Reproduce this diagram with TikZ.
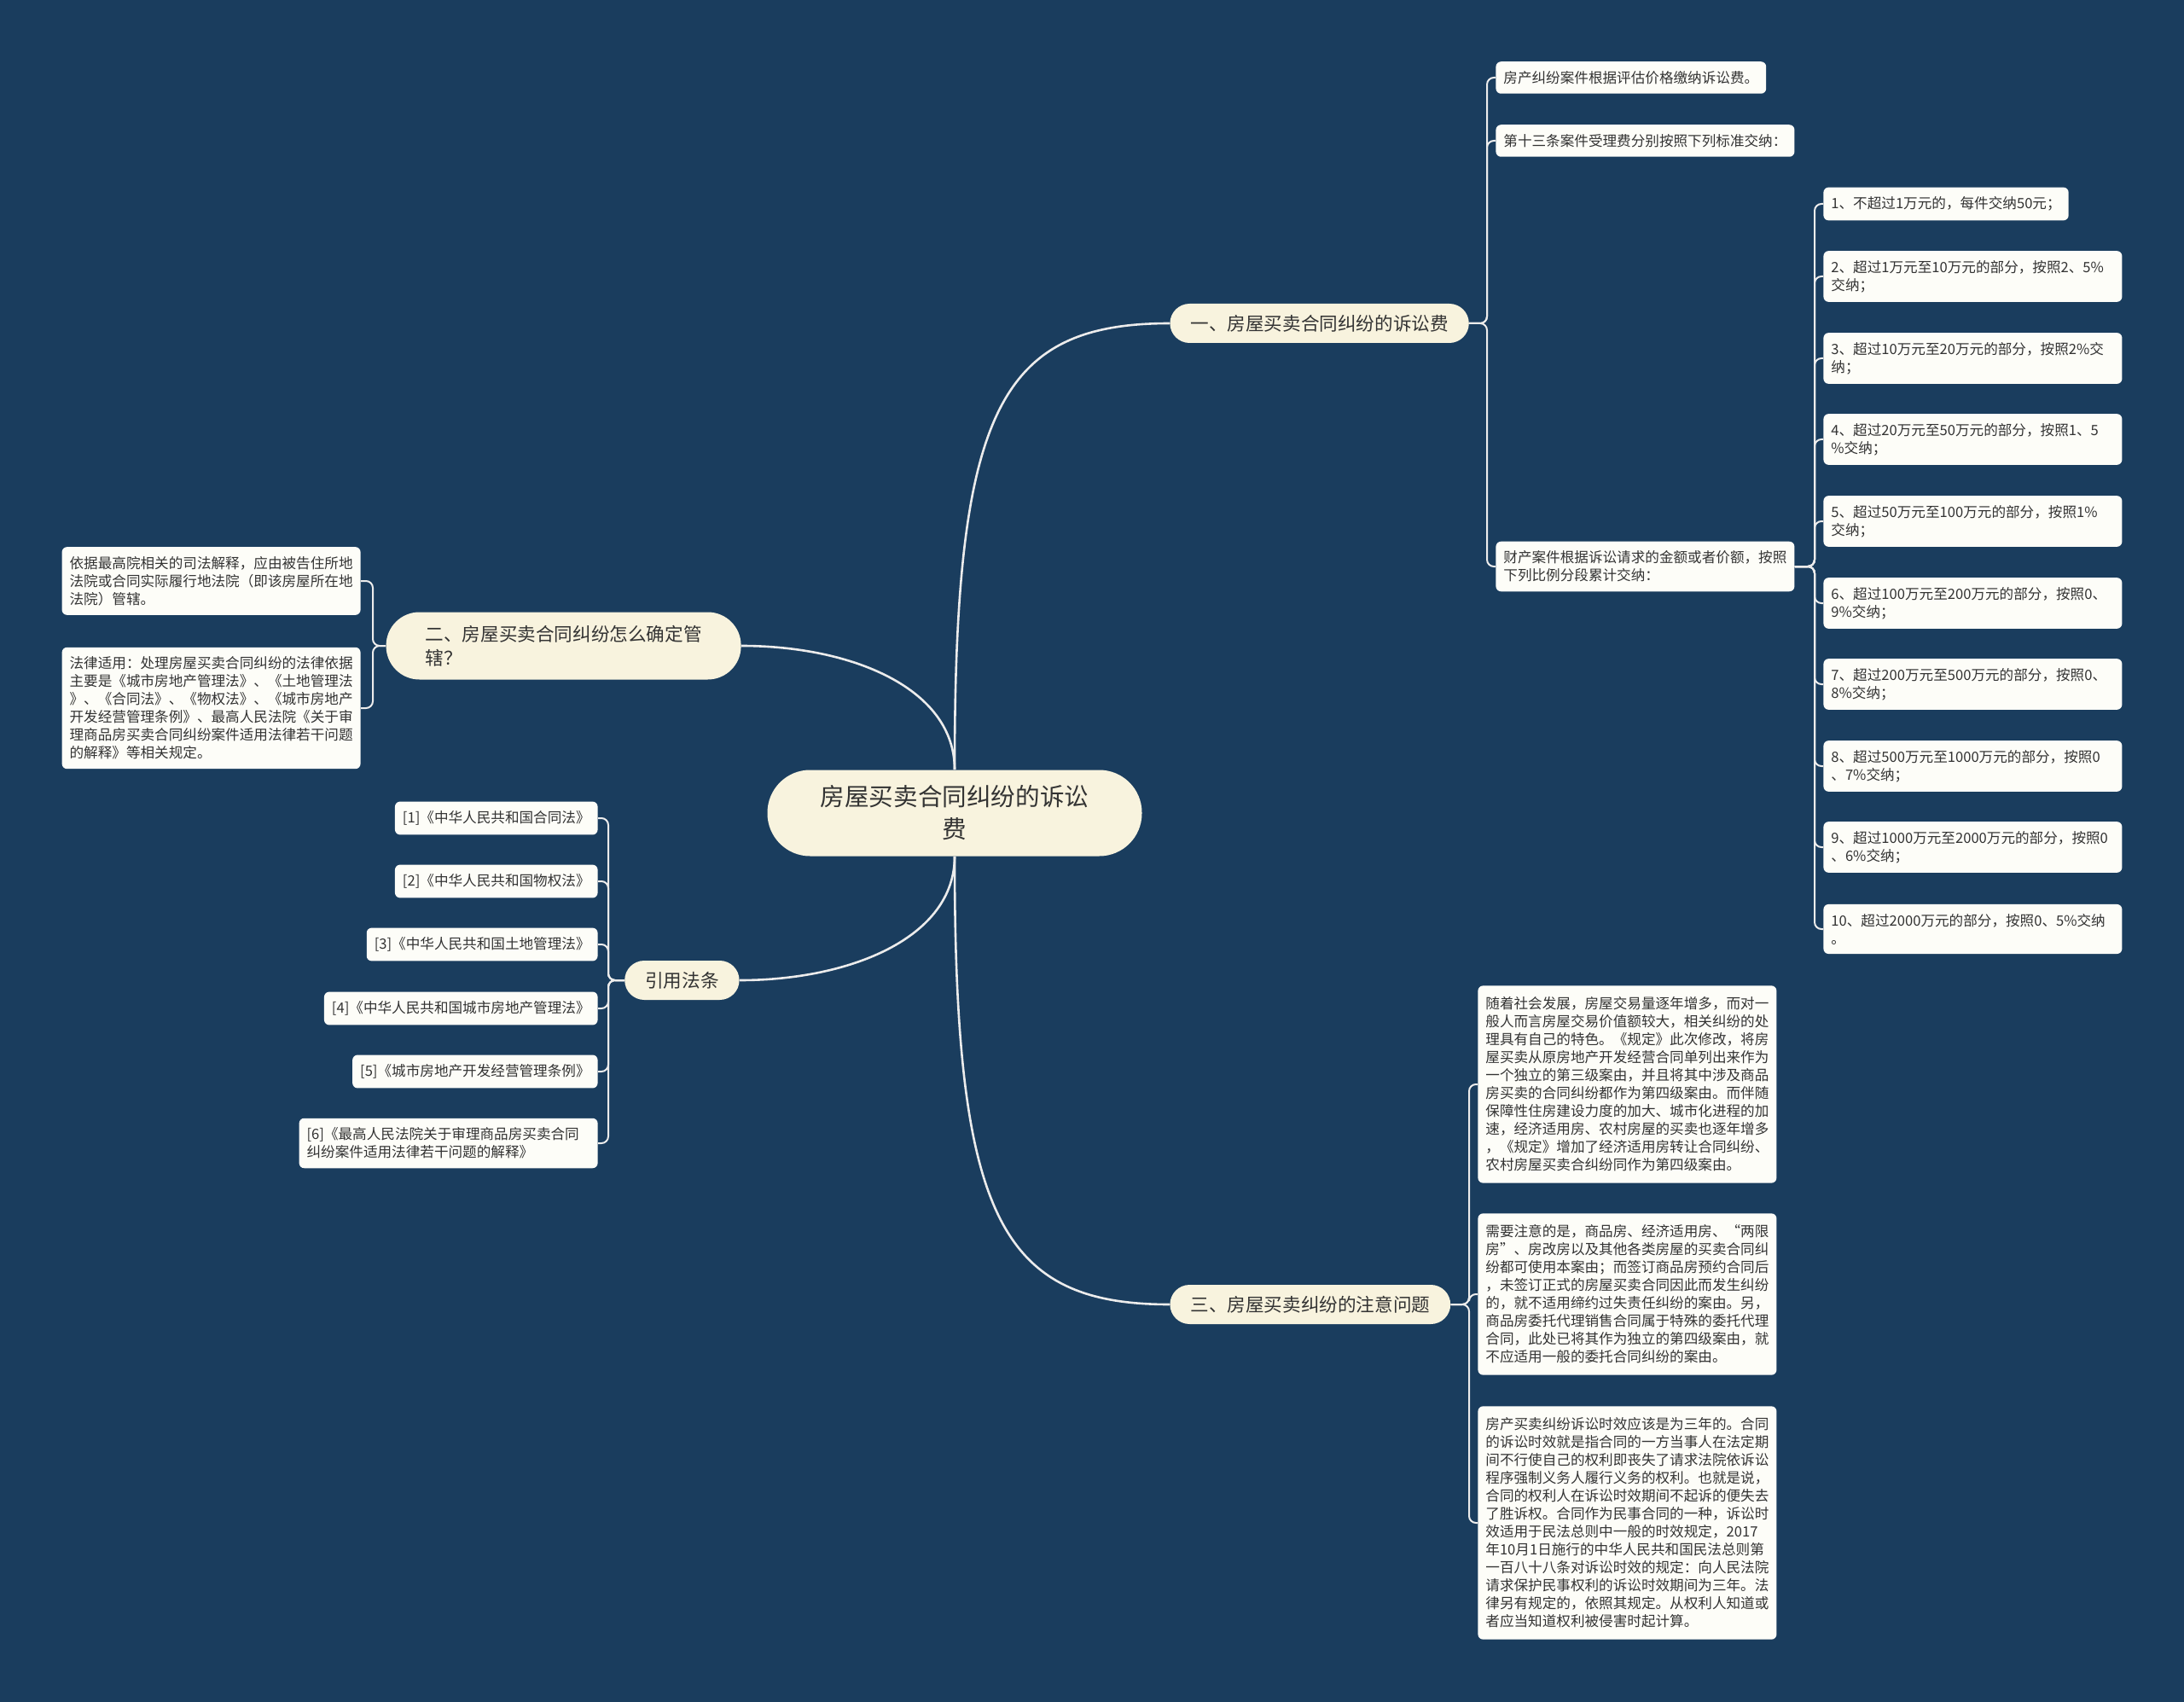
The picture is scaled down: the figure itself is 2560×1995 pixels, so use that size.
\documentclass[tikz,border=0pt]{standalone}
\usepackage{fontspec}
\setmainfont{Noto Sans CJK SC}
\usepackage{tikz}
\usetikzlibrary{positioning}

\definecolor{bgnavy}{RGB}{26,61,94}
\definecolor{creambox}{RGB}{248,243,222}
\definecolor{leafwhite}{RGB}{253,253,248}
\definecolor{inkgray}{RGB}{51,51,51}
\definecolor{linewhite}{RGB}{236,236,236}

\begin{document}
\begin{tikzpicture}[
  x=0.5pt, y=-0.5pt,
  every node/.style={text=inkgray},
  root/.style={rectangle, fill=creambox, rounded corners=25pt,
    minimum width=219.5pt, minimum height=50.5pt, align=center,
    font=\fontsize{14.3pt}{19pt}\selectfont},
  topic/.style={rectangle, fill=creambox, rounded corners=11.5pt,
    minimum height=23pt, inner xsep=12pt, align=left,
    font=\fontsize{10.8pt}{14pt}\selectfont},
  leaf/.style={rectangle, fill=leafwhite, rounded corners=3pt,
    inner xsep=4.5pt, inner ysep=5.5pt, align=left,
    font=\fontsize{8.3pt}{10.5pt}\selectfont},
  wide/.style={leaf, text width=166pt},
  para/.style={wide, inner ysep=6.7pt},
  branch/.style={draw=linewhite, line width=1.3pt},
  link/.style={draw=linewhite, line width=1pt, rounded corners=4pt},
  elbow/.style={to path={-| ([xshift=#1]\tikztotarget) -- (\tikztotarget)}},
]
\useasboundingbox (0,0) rectangle (2560,1995);
\fill[bgnavy] (0,0) rectangle (2560,1995);

% Root and main topics
\node[root] at (1119,953) (root) {房屋买卖合同纠纷的诉讼\\费};
\node[topic, anchor=west] at (1371,379) (fee) {一、房屋买卖合同纠纷的诉讼费};
\node[topic, anchor=east, inner xsep=23pt, minimum height=39.5pt,
      rounded corners=19.5pt] at (869,757) (court) {二、房屋买卖合同纠纷怎么确定管\\辖？};
\node[topic, anchor=east] at (867,1149) (laws) {引用法条};
\node[topic, anchor=west] at (1371,1529) (notes) {三、房屋买卖纠纷的注意问题};

% Topic 1: fee rules
\node[leaf, anchor=west] at (1753,91) (feeA) {房产纠纷案件根据评估价格缴纳诉讼费。};
\node[leaf, anchor=west] at (1753,165) (feeB) {第十三条案件受理费分别按照下列标准交纳：};
\node[wide, anchor=west] at (1753,664) (feeC) {财产案件根据诉讼请求的金额或者价额，按照\\下列比例分段累计交纳：};

% Topic 1: rate steps
\node[leaf, anchor=west] at (2137,239) (rate1) {1、不超过1万元的，每件交纳50元；};
\node[wide, anchor=west] at (2137,324) (rate2) {2、超过1万元至10万元的部分，按照2、5\%\\交纳；};
\node[wide, anchor=west] at (2137,420) (rate3) {3、超过10万元至20万元的部分，按照2\%交\\纳；};
\node[wide, anchor=west] at (2137,515) (rate4) {4、超过20万元至50万元的部分，按照1、5\\\%交纳；};
\node[wide, anchor=west] at (2137,611) (rate5) {5、超过50万元至100万元的部分，按照1\%\\交纳；};
\node[wide, anchor=west] at (2137,707) (rate6) {6、超过100万元至200万元的部分，按照0、\\9\%交纳；};
\node[wide, anchor=west] at (2137,802) (rate7) {7、超过200万元至500万元的部分，按照0、\\8\%交纳；};
\node[wide, anchor=west] at (2137,898) (rate8) {8、超过500万元至1000万元的部分，按照0\\、7\%交纳；};
\node[wide, anchor=west] at (2137,993) (rate9) {9、超过1000万元至2000万元的部分，按照0\\、6\%交纳；};
\node[wide, anchor=west] at (2137,1089) (rate10) {10、超过2000万元的部分，按照0、5\%交纳\\。};

% Topic 2: jurisdiction
\node[wide, anchor=east] at (423,681) (courtA) {依据最高院相关的司法解释，应由被告住所地\\法院或合同实际履行地法院（即该房屋所在地\\法院）管辖。};
\node[wide, anchor=east] at (423,830) (courtB) {法律适用：处理房屋买卖合同纠纷的法律依据\\主要是《城市房地产管理法》、《土地管理法\\》、《合同法》、《物权法》、《城市房地产\\开发经营管理条例》、最高人民法院《关于审\\理商品房买卖合同纠纷案件适用法律若干问题\\的解释》等相关规定。};

% Topic 3: cited laws
\node[leaf, anchor=east] at (701,959) (law1) {[1]《中华人民共和国合同法》};
\node[leaf, anchor=east] at (701,1033) (law2) {[2]《中华人民共和国物权法》};
\node[leaf, anchor=east] at (701,1107) (law3) {[3]《中华人民共和国土地管理法》};
\node[leaf, anchor=east] at (701,1182) (law4) {[4]《中华人民共和国城市房地产管理法》};
\node[leaf, anchor=east] at (701,1256) (law5) {[5]《城市房地产开发经营管理条例》};
\node[wide, anchor=east] at (701,1340) (law6) {[6]《最高人民法院关于审理商品房买卖合同\\纠纷案件适用法律若干问题的解释》};

% Topic 4: notes
\node[para, anchor=west] at (1732,1271) (noteA) {随着社会发展，房屋交易量逐年增多，而对一\\般人而言房屋交易价值额较大，相关纠纷的处\\理具有自己的特色。《规定》此次修改，将房\\屋买卖从原房地产开发经营合同单列出来作为\\一个独立的第三级案由，并且将其中涉及商品\\房买卖的合同纠纷都作为第四级案由。而伴随\\保障性住房建设力度的加大、城市化进程的加\\速，经济适用房、农村房屋的买卖也逐年增多\\，《规定》增加了经济适用房转让合同纠纷、\\农村房屋买卖合纠纷同作为第四级案由。};
\node[para, anchor=west] at (1732,1517) (noteB) {需要注意的是，商品房、经济适用房、“两限\\房”、房改房以及其他各类房屋的买卖合同纠\\纷都可使用本案由；而签订商品房预约合同后\\，未签订正式的房屋买卖合同因此而发生纠纷\\的，就不适用缔约过失责任纠纷的案由。另，\\商品房委托代理销售合同属于特殊的委托代理\\合同，此处已将其作为独立的第四级案由，就\\不应适用一般的委托合同纠纷的案由。};
\node[para, anchor=west] at (1732,1785) (noteC) {房产买卖纠纷诉讼时效应该是为三年的。合同\\的诉讼时效就是指合同的一方当事人在法定期\\间不行使自己的权利即丧失了请求法院依诉讼\\程序强制义务人履行义务的权利。也就是说，\\合同的权利人在诉讼时效期间不起诉的便失去\\了胜诉权。合同作为民事合同的一种，诉讼时\\效适用于民法总则中一般的时效规定，2017\\年10月1日施行的中华人民共和国民法总则第\\一百八十八条对诉讼时效的规定：向人民法院\\请求保护民事权利的诉讼时效期间为三年。法\\律另有规定的，依照其规定。从权利人知道或\\者应当知道权利被侵害时起计算。};

% root -> topics
\draw[branch] (root.north) .. controls +(0,-420) and +(-200,0) .. (fee.west);
\draw[branch] (root.north) .. controls +(0,-95) and +(130,0) .. (court.east);
\draw[branch] (root.south) .. controls +(0,95) and +(130,0) .. (laws.east);
\draw[branch] (root.south) .. controls +(0,420) and +(-200,0) .. (notes.west);

% topic -> leaves
\foreach \n in {feeA,feeB,feeC}
  \draw[link] (fee.east) to[elbow=-5pt] (\n.west);
\foreach \n in {1,...,10}
  \draw[link] (feeC.east) to[elbow=-5pt] (rate\n.west);
\foreach \n in {courtA,courtB}
  \draw[link] (court.west) to[elbow=7pt] (\n.east);
\foreach \n in {1,...,6}
  \draw[link] (laws.west) to[elbow=6pt] (law\n.east);
\foreach \n in {noteA,noteB,noteC}
  \draw[link] (notes.east) to[elbow=-5pt] (\n.west);

\end{tikzpicture}
\end{document}
